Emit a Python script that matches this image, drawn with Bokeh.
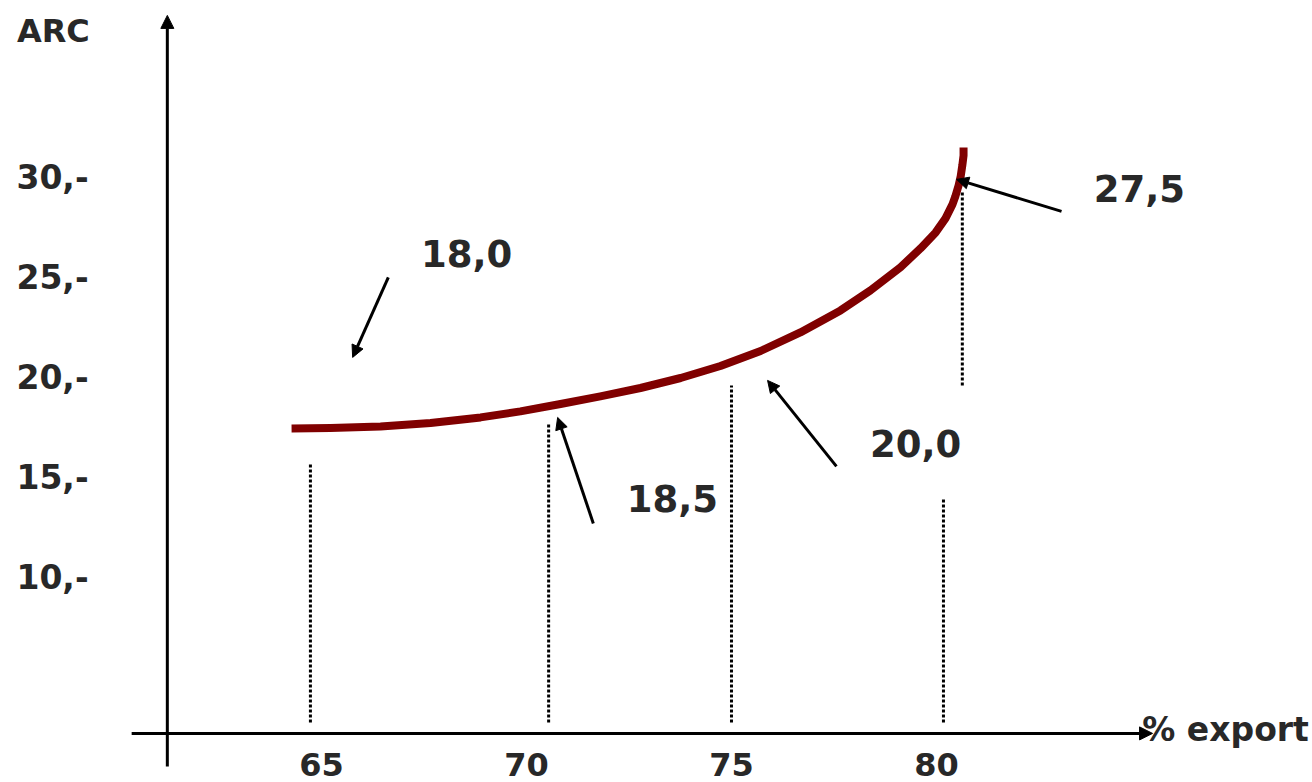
from bokeh.plotting import figure
from bokeh.models import ColumnDataSource, Arrow, NormalHead, Range1d
from bokeh.core.properties import value
from bokeh.embed import file_html
from bokeh.resources import INLINE

# ---- data ----
# ARC curve against % export
curve_x = [64.27, 65.22, 66.44, 67.66, 68.88, 69.85, 70.83, 71.80, 72.78, 73.76,
           74.73, 75.71, 76.68, 77.66, 78.39, 79.12, 79.61, 79.98, 80.22, 80.39,
           80.46, 80.54, 80.59, 80.63, 80.66, 80.66]
curve_y = [17.38, 17.40, 17.48, 17.65, 17.93, 18.23, 18.60, 18.98, 19.40, 19.90,
           20.50, 21.25, 22.18, 23.28, 24.28, 25.43, 26.38, 27.18, 27.88, 28.58,
           28.98, 29.53, 29.98, 30.53, 31.03, 31.43]

# y tick labels
y_ticks = [30, 25, 20, 15, 10]
y_tick_labels = ["30,-", "25,-", "20,-", "15,-", "10,-"]
# x tick labels
x_ticks = [65, 70, 75, 80]
x_tick_labels = ["65", "70", "75", "80"]

# dotted guide lines (x position, top, bottom)
guide_x = [64.73, 70.54, 75.00, 80.17, 80.63]
guide_top = [15.68, 17.68, 19.53, 13.93, 29.2]
guide_bottom = [2.68, 2.68, 2.68, 2.68, 19.53]

# annotated values
ann_labels = ["18,0", "18,5", "20,0", "27,5"]
ann_text_x = [68.54, 73.56, 79.49, 84.95]
ann_text_y = [26.13, 13.88, 16.63, 29.38]
ann_tail_x = [66.63, 71.63, 77.56, 83.05]
ann_tail_y = [24.93, 12.63, 15.48, 28.23]
ann_tip_x = [65.76, 70.76, 75.88, 80.49]
ann_tip_y = [20.93, 17.93, 19.78, 29.83]

# axes of the diagram
axis_origin_x = 61.24
axis_origin_y = 2.13
y_axis_from = 0.48
y_axis_to = 38.03
x_axis_from = 60.37
x_axis_to = 85.27

TEXT = "#282828"
FONT = value("DejaVu Sans")

p = figure(width=1312, height=782, output_backend="svg", toolbar_location=None,
           x_range=Range1d(57.171, 89.171), y_range=Range1d(-0.325, 38.775),
           x_axis_location=None, y_axis_location=None, min_border=0)
p.grid.visible = False
p.outline_line_color = None
p.background_fill_color = "white"
p.border_fill_color = "white"

# axes with arrow heads
axes_src = ColumnDataSource(dict(
    x0=[axis_origin_x, x_axis_from], y0=[y_axis_from, axis_origin_y],
    x1=[axis_origin_x, x_axis_to], y1=[y_axis_to, axis_origin_y]))
p.add_layout(Arrow(end=NormalHead(size=13, fill_color="black", line_color="black", line_width=1),
                   x_start="x0", y_start="y0", x_end="x1", y_end="y1",
                   source=axes_src, line_width=3, line_color="black"))

# dotted guides
p.segment(x0=guide_x, y0=guide_bottom, x1=guide_x, y1=guide_top,
          line_color="black", line_width=3, line_dash="3 2")

# curve
p.line(curve_x, curve_y, line_color="#800000", line_width=8, line_cap="butt", line_join="round")

# annotation arrows
ann_src = ColumnDataSource(dict(x0=ann_tail_x, y0=ann_tail_y, x1=ann_tip_x, y1=ann_tip_y))
p.add_layout(Arrow(end=NormalHead(size=12, fill_color="black", line_color="black", line_width=1),
                   x_start="x0", y_start="y0", x_end="x1", y_end="y1",
                   source=ann_src, line_width=3, line_color="black"))

# annotation texts
p.text(x=ann_text_x, y=ann_text_y, text=ann_labels, text_font=FONT, text_font_style="bold",
       text_font_size="37px", text_align="center", text_baseline="middle", text_color=TEXT)

# y tick labels
p.text(x=[58.44] * len(y_ticks), y=y_ticks, text=y_tick_labels, text_font=FONT,
       text_font_style="bold", text_font_size="33px", text_align="center",
       text_baseline="middle", text_color=TEXT)

# x tick labels
p.text(x=x_ticks, y=[0.6] * len(x_ticks), text=x_tick_labels, text_font=FONT,
       text_font_style="bold", text_font_size="32px", text_align="center",
       text_baseline="middle", text_color=TEXT)

# axis titles
p.text(x=[58.46], y=[37.23], text=["ARC"], text_font=FONT, text_font_style="bold",
       text_font_size="32px", text_align="center", text_baseline="middle", text_color=TEXT)
p.text(x=[85.02], y=[2.35], text=["% export"], text_font=FONT, text_font_style="bold",
       text_font_size="33px", text_align="left", text_baseline="middle", text_color=TEXT)

open("out.html", "w").write(file_html(p, INLINE))
